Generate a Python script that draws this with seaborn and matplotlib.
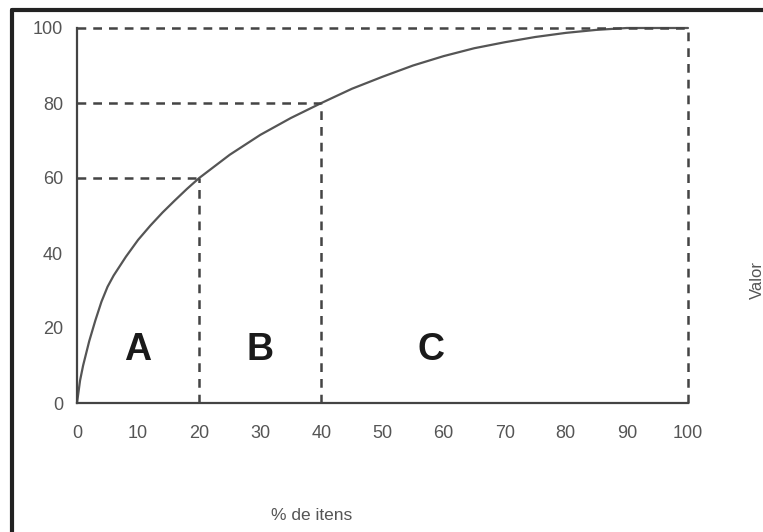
import matplotlib
matplotlib.use("Agg")
import matplotlib.pyplot as plt
import seaborn as sns
import pandas as pd
from matplotlib.lines import Line2D

# ---- data ----
pct_itens = [0, 0.5, 1, 2, 3, 4, 5, 6, 8, 10, 12, 14, 16, 18, 20, 25, 30, 35, 40,
             45, 50, 55, 60, 65, 70, 75, 80, 85, 90, 95, 100]
pct_valor = [0, 6, 10, 16.5, 22, 27, 31, 34, 39, 43.5, 47.3, 50.8, 54, 57.1, 60, 66.2, 71.5, 76, 80,
             83.8, 87, 90, 92.5, 94.6, 96.2, 97.6, 98.7, 99.5, 100, 100, 100]

cut_x = [20, 40, 100]
cut_y = [60, 80, 100]

class_labels = ["A", "B", "C"]
class_x = [10, 30, 58]
class_y = [14, 14, 14]

x_ticks = [0, 10, 20, 30, 40, 50, 60, 70, 80, 90, 100]
y_ticks = [0, 20, 40, 60, 80, 100]

sns.set_style("white")
plt.rcParams['font.family'] = ['Liberation Sans', 'DejaVu Sans']

fig = plt.figure(figsize=(7.63, 5.32), dpi=100)
ax = fig.add_axes([77/763, 1-403/532, (688-77)/763, (403-28)/532])

df = pd.DataFrame({"itens": pct_itens, "valor": pct_valor})
sns.lineplot(data=df, x="itens", y="valor", ax=ax, color="#555555", linewidth=1.6,
             clip_on=False)

dash_kw = dict(color="#444444", linewidth=1.8, linestyle=(0, (3.5, 2.8)), clip_on=False)
for cx, cy in zip(cut_x, cut_y):
    ax.plot([0, cx], [cy, cy], **dash_kw)
    ax.plot([cx, cx], [0, cy], **dash_kw)

for lab, lx, ly in zip(class_labels, class_x, class_y):
    ax.text(lx, ly, lab, ha="center", va="center", fontsize=27, fontweight="bold",
            color="#1a1a1a")

ax.set_xlim(0, 100)
ax.set_ylim(0, 100)
ax.set_xticks(x_ticks)
ax.set_yticks(y_ticks)
ax.tick_params(axis="both", direction="out", length=8, width=1.5, color="#444444",
               labelcolor="#555555", labelsize=13)
ax.tick_params(axis="x", length=10, pad=6)
ax.tick_params(axis="y", pad=2)

for s in ["top", "right"]:
    ax.spines[s].set_visible(False)
for s in ["left", "bottom"]:
    ax.spines[s].set_color("#444444")
    ax.spines[s].set_linewidth(1.6)

ax.set_xlabel("% de itens", fontsize=12.5, color="#555555")
ax.set_ylabel("")
ax.xaxis.set_label_coords((312-77)/(688-77), -(508-403)/(403-28))
fig.text(757/763, 1-280/532, "Valor", rotation=90, ha="center", va="center",
         fontsize=12, color="#555555")

# outer frame (left and top borders)
fig.add_artist(Line2D([12/763, 12/763], [0, 1-10/532], color="#222222", linewidth=3,
                      transform=fig.transFigure))
fig.add_artist(Line2D([12/763, 1], [1-10/532, 1-10/532], color="#222222", linewidth=3,
                      transform=fig.transFigure))

fig.savefig("out.png", dpi=100)
